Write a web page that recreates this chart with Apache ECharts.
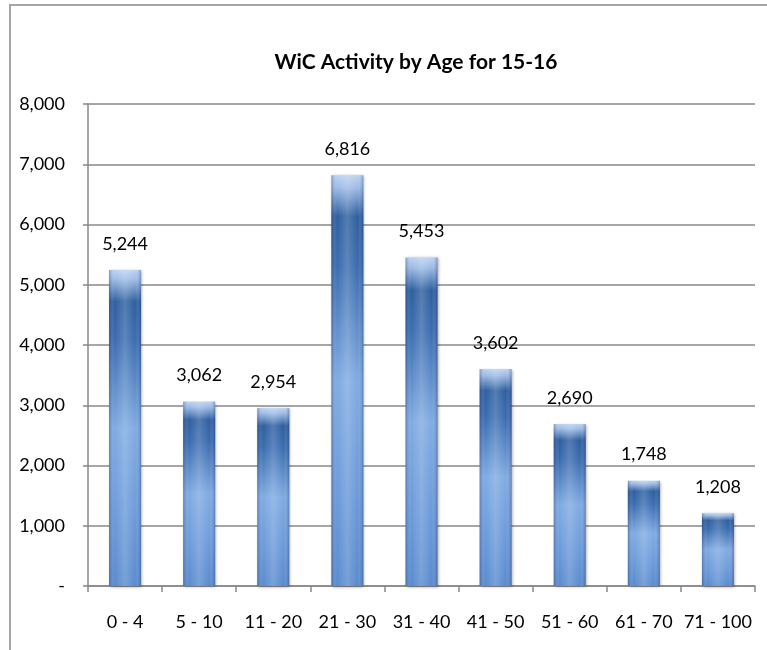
<!DOCTYPE html>
<html>
<head>
<meta charset="utf-8">
<script src="https://cdn.jsdelivr.net/npm/echarts@6/dist/echarts.min.js"></script>
<style>
    html, body { margin: 0; padding: 0; background: #fff; }
    #chart { width: 767px; height: 650px; }
</style>
</head>
<body>
<div id="chart"></div>
<script>
const ageGroups = ['0 - 4', '5 - 10', '11 - 20', '21 - 30', '31 - 40', '41 - 50', '51 - 60', '61 - 70', '71 - 100']
const activity = [5244, 3062, 2954, 6816, 5453, 3602, 2690, 1748, 1208]
const yTicks = [0, 1000, 2000, 3000, 4000, 5000, 6000, 7000, 8000]

const font = 'Lato, "Open Sans", sans-serif'
const fmt = v => v === 0 ? '-' : v.toLocaleString('en-US')

const chart = echarts.init(document.getElementById('chart'))
chart.setOption({
    animation: false,
    backgroundColor: '#fff',
    title: {
        text: 'WiC Activity by Age for 15-16',
        left: 411,
        top: 47,
        textAlign: 'center',
        textStyle: {
            fontFamily: font,
            fontWeight: 'bold',
            fontSize: 21,
            color: '#000'
        }
    },
    // outer chart frame, cut off at right and bottom like the source
    graphic: [{
        type: 'rect',
        z: -10,
        shape: { x: 10, y: 5, width: 800, height: 700 },
        style: { fill: 'none', stroke: '#a6a6a6', lineWidth: 2 }
    }],
    grid: {
        left: 88,
        right: 12,
        top: 104,
        bottom: 64
    },
    xAxis: {
        type: 'category',
        data: ageGroups,
        axisLine: { lineStyle: { color: '#888', width: 1.5 } },
        axisTick: { show: true, length: 6, lineStyle: { color: '#888', width: 1.5 } },
        axisLabel: {
            interval: 0,
            margin: 27,
            fontFamily: font,
            fontSize: 18,
            color: '#000'
        }
    },
    yAxis: {
        type: 'value',
        min: yTicks[0],
        max: yTicks[yTicks.length - 1],
        interval: 1000,
        axisLine: { show: true, lineStyle: { color: '#888', width: 1.5 } },
        axisTick: { show: true, length: 5, lineStyle: { color: '#888', width: 1.5 } },
        splitLine: { lineStyle: { color: '#888', width: 1.5 } },
        axisLabel: {
            margin: 23,
            fontFamily: font,
            fontSize: 18,
            color: '#000',
            formatter: fmt
        }
    },
    series: [{
        type: 'bar',
        data: activity,
        barWidth: 32,
        itemStyle: {
            color: new echarts.graphic.LinearGradient(0, 0, 0, 1, [
                { offset: 0, color: '#bcd3f2' },
                { offset: 0.03, color: '#9dbbe6' },
                { offset: 0.1, color: '#2f5f9f' },
                { offset: 0.22, color: '#3a6cb0' },
                { offset: 0.5, color: '#80abe2' },
                { offset: 0.75, color: '#6e9cdb' },
                { offset: 1, color: '#5a8bcf' }
            ]),
            shadowBlur: 3,
            shadowOffsetX: 1,
            shadowOffsetY: 1,
            shadowColor: 'rgba(0,0,0,0.35)'
        },
        label: {
            show: true,
            position: 'top',
            distance: 17,
            fontFamily: font,
            fontSize: 18,
            color: '#000',
            formatter: p => fmt(p.value)
        }
    }, {
        // cylinder shading laid over the same bars
        type: 'bar',
        data: activity,
        barWidth: 32,
        barGap: '-100%',
        silent: true,
        itemStyle: {
            color: new echarts.graphic.LinearGradient(0, 0, 1, 0, [
                { offset: 0, color: 'rgba(20,50,100,0.35)' },
                { offset: 0.18, color: 'rgba(255,255,255,0)' },
                { offset: 0.5, color: 'rgba(255,255,255,0.18)' },
                { offset: 0.82, color: 'rgba(255,255,255,0)' },
                { offset: 1, color: 'rgba(20,50,100,0.35)' }
            ])
        }
    }]
})
</script>
</body>
</html>
